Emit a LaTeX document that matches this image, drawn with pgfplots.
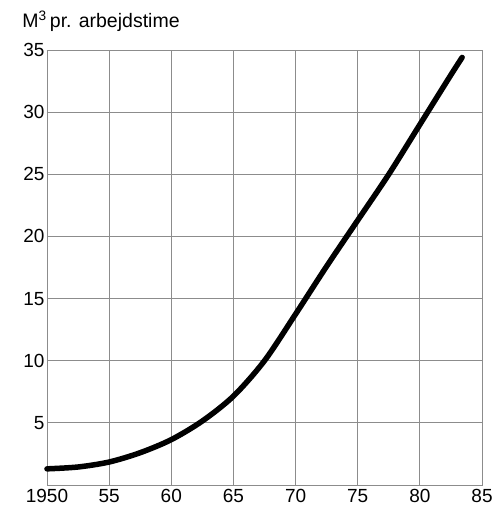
\documentclass[border=0pt]{standalone}
\usepackage{pgfplots}
\pgfplotsset{compat=1.18}
\usepackage{fontspec}
\setmainfont{Liberation Sans}
\definecolor{gridgray}{gray}{0.55}
\begin{document}
\begin{tikzpicture}
\begin{axis}[
  scale only axis,
  width=435pt, height=435pt,
  xmin=1950, xmax=1985, ymin=0, ymax=35,
  xtick={1950,1955,...,1985},
  xticklabels={1950,55,60,65,70,75,80,85},
  ytick={5,10,...,35},
  grid=major,
  major grid style={gridgray, line width=0.9pt},
  axis line style={gridgray, line width=0.9pt},
  major tick length=0pt,
  /pgf/number format/assume math mode=true,
  tick label style={font=\fontsize{19}{22}\selectfont},
  yticklabel style={xshift=1pt},
  xticklabel style={yshift=-1pt},
  clip=false,
]
\path (axis cs:1946.22,-1.93) rectangle (axis cs:1985.88,39.02);
\node[anchor=base west, font=\fontsize{19.5}{22}\selectfont, inner sep=0pt] at (axis cs:1948.0,36.8) {M\textsuperscript{3}\,pr. arbejdstime};
\addplot[black, line width=5.5pt, smooth, tension=0.5, line cap=round] coordinates {
(1950,1.3) (1952.5,1.45) (1955,1.85) (1957.5,2.6) (1960,3.65) (1962.5,5.15)
(1965,7.15) (1967.5,10.0) (1970,13.75) (1972.5,17.6) (1975,21.3)
(1977.5,25.0) (1980,29.0) (1982.5,33.0) (1983.4,34.4)
};
\end{axis}
\end{tikzpicture}
\end{document}
